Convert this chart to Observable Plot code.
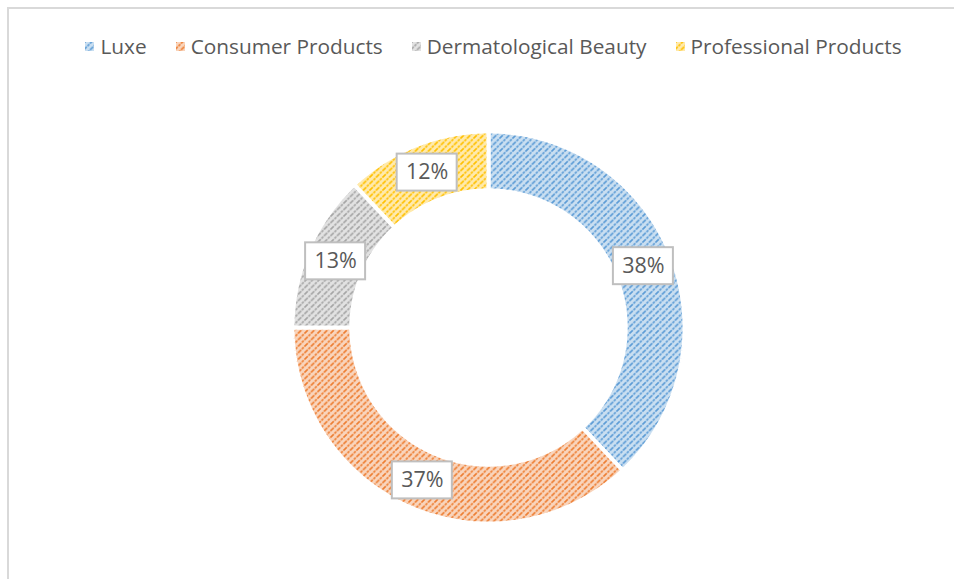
<!DOCTYPE html>
<html><head><meta charset="utf-8">
<script src="https://cdn.jsdelivr.net/npm/d3@7"></script>
<script src="https://cdn.jsdelivr.net/npm/@observablehq/plot@0.6"></script>
<style>
html,body{margin:0;padding:0;background:#fff;overflow:hidden;}
#wrap{position:relative;width:954px;height:579px;overflow:hidden;font-family:"Open Sans",sans-serif;}
#frame{position:absolute;left:7px;top:7px;width:1000px;height:700px;border:2px solid #d9d9d9;box-sizing:border-box;}
#legend{position:absolute;top:31px;left:0;width:987px;display:flex;justify-content:center;gap:29px;font-size:20.8px;color:#595959;line-height:30px;}
.item{display:flex;align-items:center;gap:6px;white-space:nowrap;}
.sw{width:9px;height:9px;display:block;}
#chart{position:absolute;left:0;top:0;}
</style></head><body>
<div id="wrap"><div id="frame"></div><div id="legend"></div><div id="chart"></div></div>
<script>
// ---- data ----
const categories = ["Luxe", "Consumer Products", "Dermatological Beauty", "Professional Products"];
const shares = [38, 37, 13, 12];
const labels = ["38%", "37%", "13%", "12%"];
const colors = ["#5B9BD5", "#ED7D31", "#A5A5A5", "#FFC000"];

// ---- layout ----
const W = 954, H = 579, cx = 488, cy = 327, U = 196, inner = 0.7;

const arcs = d3.pie().sort(null).startAngle(0).endAngle(2 * Math.PI)(shares);

function ring(a0, a1) {
  const pts = [];
  const n = 120;
  for (let i = 0; i <= n; i++) { const a = a0 + (a1 - a0) * i / n; pts.push({x: Math.sin(a), y: Math.cos(a)}); }
  for (let i = n; i >= 0; i--) { const a = a0 + (a1 - a0) * i / n; pts.push({x: inner * Math.sin(a), y: inner * Math.cos(a)}); }
  pts.push(pts[0]);
  return pts;
}

const labelData = arcs.map((a, i) => {
  const m = (a.startAngle + a.endAngle) / 2, r = (1 + inner) / 2;
  return {label: labels[i], x: r * Math.sin(m), y: r * Math.cos(m)};
});

const segMarks = arcs.map((a, i) => Plot.line(ring(a.startAngle, a.endAngle), {
  x: "x", y: "y", curve: "linear", fill: `url(#pat${i})`, stroke: "white", strokeWidth: 4, strokeLinejoin: "miter"
}));

const chart = Plot.plot({
  width: W, height: H, margin: 0,
  style: {background: "transparent", fontFamily: "'Open Sans', sans-serif"},
  x: {domain: [-cx / U, (W - cx) / U], axis: null},
  y: {domain: [-(H - cy) / U, cy / U], axis: null},
  marks: [
    ...segMarks,
    Plot.rect(labelData, {x1: "x", x2: "x", y1: "y", y2: "y", insetLeft: -30, insetRight: -30, insetTop: -18.5, insetBottom: -18.5, fill: "white", stroke: "#bfbfbf", strokeWidth: 2}),
    Plot.text(labelData, {x: "x", y: "y", text: "label", fontSize: 21.5, fill: "#595959"})
  ]
});

// patterns
const defs = d3.select(chart).insert("defs", ":first-child");
colors.forEach((c, i) => {
  const p = defs.append("pattern").attr("id", `pat${i}`).attr("patternUnits", "userSpaceOnUse").attr("width", 6.5).attr("height", 6.5);
  p.append("rect").attr("width", 6.5).attr("height", 6.5).attr("fill", c).attr("fill-opacity", 0.32);
  p.append("path").attr("d", "M-1,1L1,-1M0,6.5L6.5,0M5.5,7.5L7.5,5.5").attr("stroke", c).attr("stroke-width", 1.7).attr("stroke-dasharray", "2.5 1");
});
document.getElementById("chart").append(chart);

// legend
const leg = d3.select("#legend");
categories.forEach((c, i) => {
  const it = leg.append("div").attr("class", "item");
  it.append("svg").attr("class", "sw").attr("width", 9).attr("height", 9)
    .append("rect").attr("width", 9).attr("height", 9).attr("fill", `url(#pat${i})`);
  it.append("span").text(c);
});
</script>
</body></html>
